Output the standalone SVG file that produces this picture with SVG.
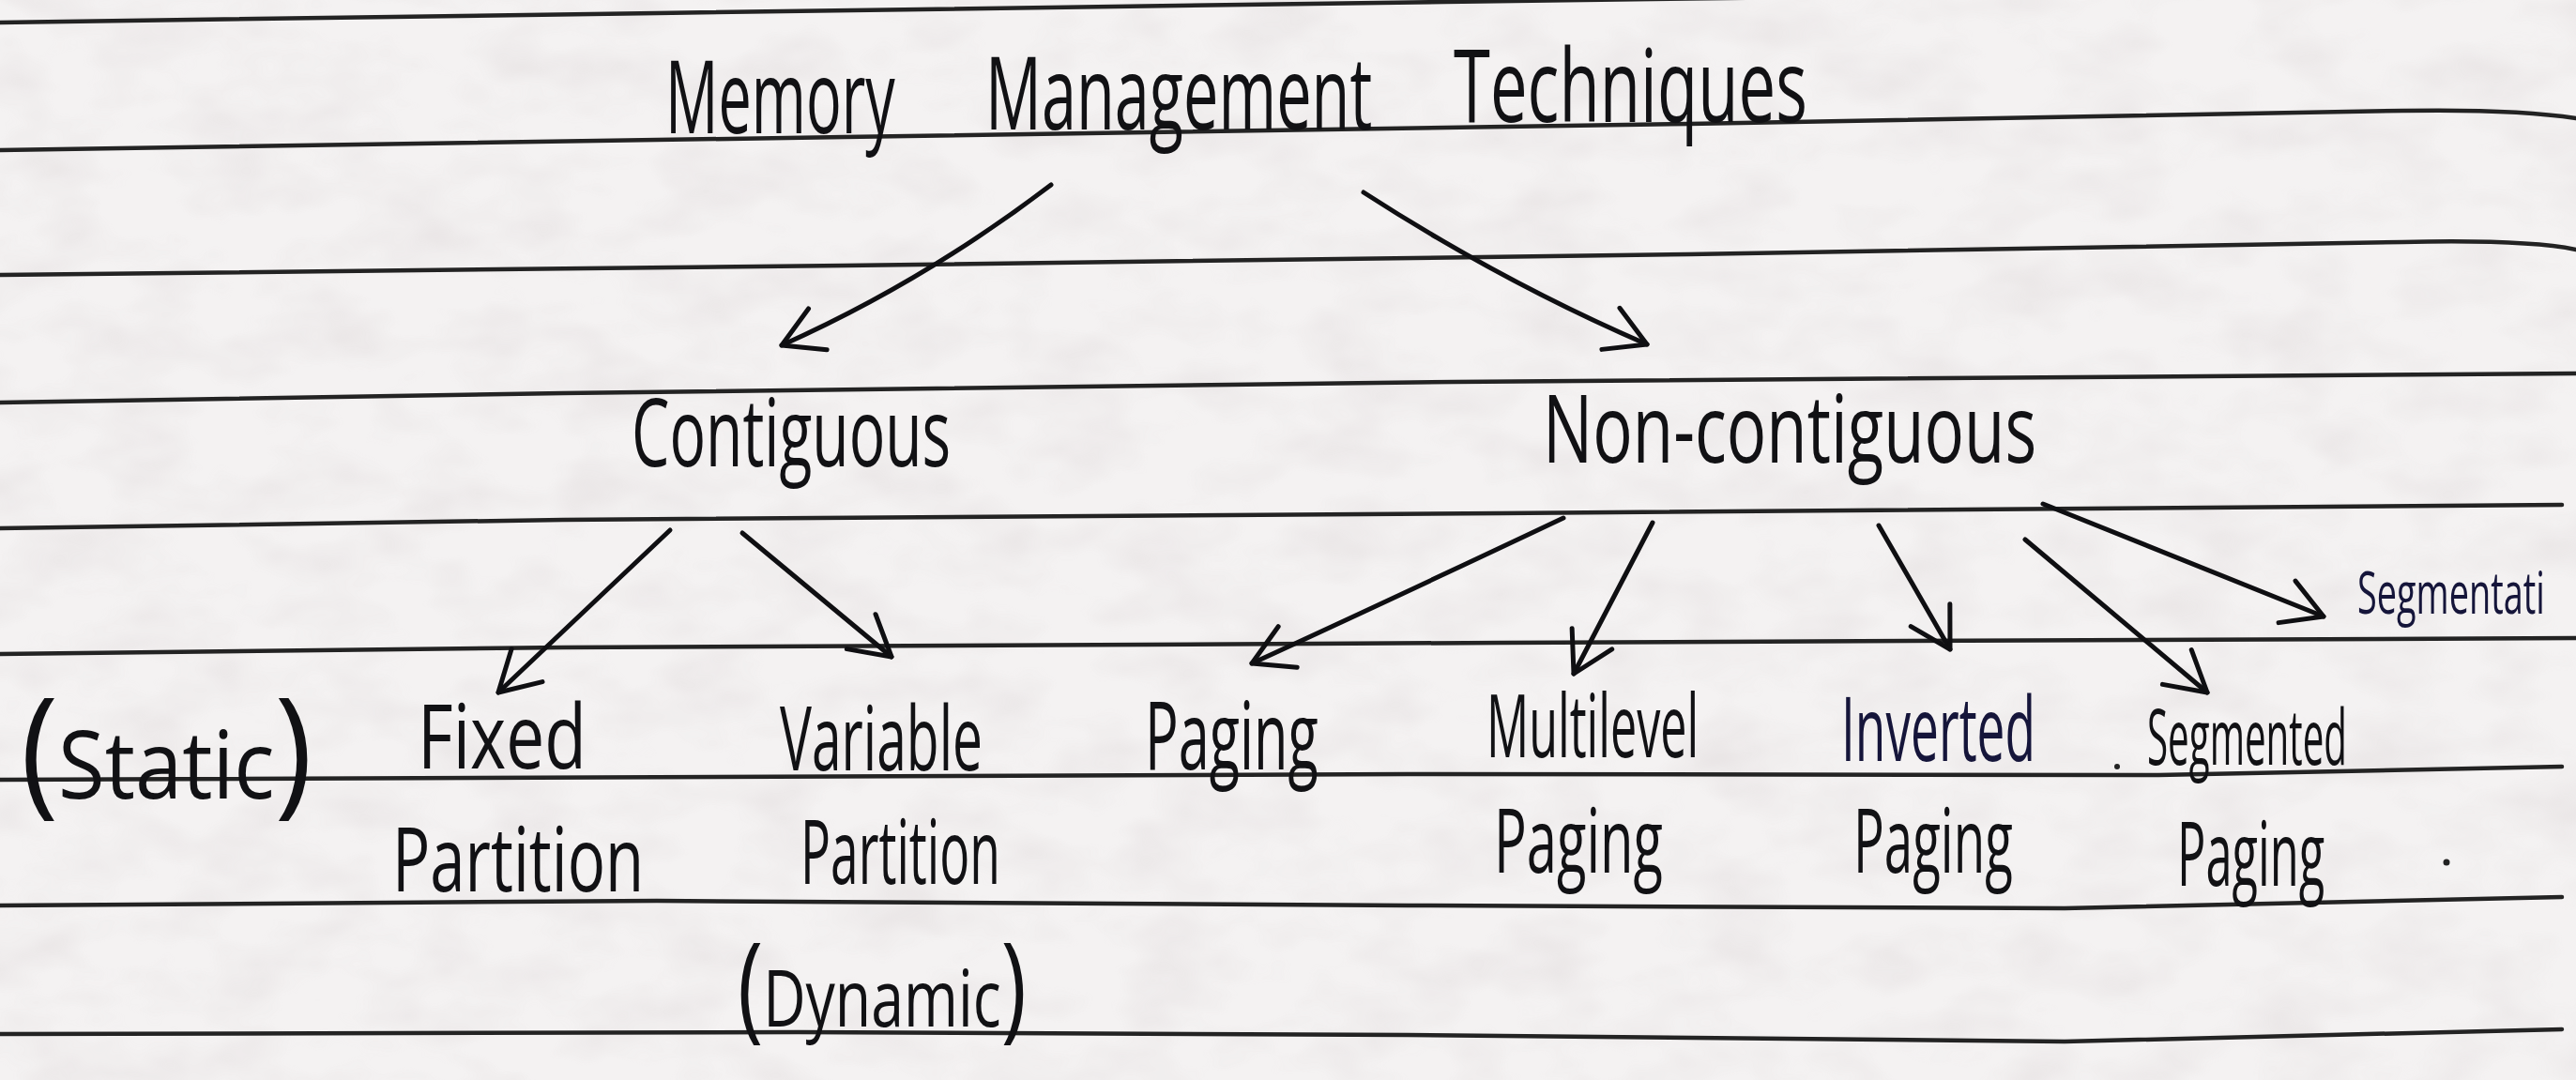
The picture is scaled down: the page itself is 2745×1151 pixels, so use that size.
<svg xmlns="http://www.w3.org/2000/svg" width="2745" height="1151" viewBox="0 0 2745 1151">
  <style>
    .hw { font-family: "Open Sans", "Liberation Sans", Arial, sans-serif; font-weight: 400; fill: #111114; }
    .ink2 { fill: #15153a; }
    .rule { fill: none; stroke: #232323; stroke-width: 4.5; stroke-linecap: round; stroke-linejoin: round; }
    .edge { fill: none; stroke: #0f0f12; stroke-width: 5; stroke-linecap: round; stroke-linejoin: round; marker-end: url(#head); }
  </style>
  <defs>
    <filter id="paper" x="0" y="0" width="100%" height="100%">
      <feTurbulence type="fractalNoise" baseFrequency="0.01 0.018" numOctaves="3" seed="7" result="n"/>
      <feColorMatrix in="n" type="matrix" values="0 0 0 0 0.62  0 0 0 0 0.56  0 0 0 0 0.57  0 0 0 0.9 -0.36"/>
    </filter>
    <marker id="head" markerUnits="userSpaceOnUse" markerWidth="70" markerHeight="80" viewBox="-60 -40 70 80" refX="0" refY="0" orient="auto" overflow="visible">
      <path d="M -42 -24 L 0 0 L -42 24" fill="none" stroke="#0f0f12" stroke-width="5" stroke-linecap="round" stroke-linejoin="round"/>
    </marker>
  </defs>

  <!-- notebook paper -->
  <rect x="0" y="0" width="2745" height="1151" fill="#f4f2f2"/>
  <rect x="0" y="0" width="2745" height="1151" filter="url(#paper)" opacity="0.55"/>

  <!-- ruled lines -->
  <g id="rules">
    <path class="rule" d="M 0 24 L 700 14 L 1540 2 L 2745 -14"/>
    <path class="rule" d="M 0 160 L 900 146 L 1800 132 L 2560 118 Q 2680 116 2745 126"/>
    <path class="rule" d="M 0 293 L 900 283 L 1800 271 L 2560 258 Q 2690 255 2745 266"/>
    <path class="rule" d="M 0 429 L 600 419 L 1550 407 L 2745 398"/>
    <path class="rule" d="M 0 563 L 600 554 L 1600 547 L 2730 538"/>
    <path class="rule" d="M 0 697 L 600 690 L 1600 685 L 2745 680"/>
    <path class="rule" d="M 0 831 L 1500 825 L 2300 826 L 2730 817"/>
    <path class="rule" d="M 0 965 L 700 960 L 1500 965 L 2200 968 L 2730 956"/>
    <path class="rule" d="M 0 1102 L 850 1100 L 1500 1103 L 2200 1110 L 2730 1097"/>
  </g>

  <!-- root: narrow handwriting is a 0.6 horizontal squeeze of the face -->
  <g id="node-title">
    <text class="hw" transform="translate(709 142) scale(0.6 1)" font-size="108" textLength="408" lengthAdjust="spacingAndGlyphs">Memory</text>
    <text class="hw" transform="translate(1050 138) scale(0.6 1)" font-size="108" textLength="687" lengthAdjust="spacingAndGlyphs">Management</text>
    <text class="hw" transform="translate(1549 130) scale(0.6 1)" font-size="108" textLength="628" lengthAdjust="spacingAndGlyphs">Techniques</text>
  </g>

  <!-- second level -->
  <g id="node-contiguous">
    <text class="hw" transform="translate(673 497) scale(0.6 1)" font-size="100" textLength="567" lengthAdjust="spacingAndGlyphs">Contiguous</text>
  </g>
  <g id="node-noncontiguous">
    <text class="hw" transform="translate(1644 493) scale(0.6 1)" font-size="100" textLength="877" lengthAdjust="spacingAndGlyphs">Non-contiguous</text>
  </g>

  <!-- contiguous leaves -->
  <g id="node-fixed">
    <text class="hw" transform="translate(22 851) scale(0.6 1)" font-size="100" textLength="518" lengthAdjust="spacingAndGlyphs"><tspan font-size="150">(</tspan>Static<tspan font-size="150">)</tspan></text>
    <text class="hw" transform="translate(445 819) scale(0.6 1)" font-size="95" textLength="300" lengthAdjust="spacingAndGlyphs">Fixed</text>
    <text class="hw" transform="translate(418 950) scale(0.6 1)" font-size="95" textLength="447" lengthAdjust="spacingAndGlyphs">Partition</text>
  </g>
  <g id="node-variable">
    <text class="hw" transform="translate(831 821) scale(0.6 1)" font-size="95" textLength="360" lengthAdjust="spacingAndGlyphs">Variable</text>
    <text class="hw" transform="translate(853 942) scale(0.6 1)" font-size="95" textLength="355" lengthAdjust="spacingAndGlyphs">Partition</text>
    <text class="hw" transform="translate(786 1094) scale(0.6 1)" font-size="85" textLength="513" lengthAdjust="spacingAndGlyphs"><tspan font-size="125">(</tspan>Dynamic<tspan font-size="125">)</tspan></text>
  </g>

  <!-- non-contiguous leaves -->
  <g id="node-paging">
    <text class="hw" transform="translate(1220 820) scale(0.6 1)" font-size="100" textLength="308" lengthAdjust="spacingAndGlyphs">Paging</text>
  </g>
  <g id="node-multilevel">
    <text class="hw" transform="translate(1584 807) scale(0.6 1)" font-size="93" textLength="377" lengthAdjust="spacingAndGlyphs">Multilevel</text>
    <text class="hw" transform="translate(1592 930) scale(0.6 1)" font-size="95" textLength="300" lengthAdjust="spacingAndGlyphs">Paging</text>
  </g>
  <g id="node-inverted">
    <text class="hw ink2" transform="translate(1962 811) scale(0.6 1)" font-size="95" textLength="345" lengthAdjust="spacingAndGlyphs">Inverted</text>
    <text class="hw" transform="translate(1975 930) scale(0.6 1)" font-size="95" textLength="283" lengthAdjust="spacingAndGlyphs">Paging</text>
  </g>
  <g id="node-segmented">
    <text class="hw" transform="translate(2288 815) scale(0.6 1)" font-size="82" textLength="355" lengthAdjust="spacingAndGlyphs">Segmented</text>
    <text class="hw" transform="translate(2320 944) scale(0.6 1)" font-size="95" textLength="262" lengthAdjust="spacingAndGlyphs">Paging</text>
  </g>
  <g id="node-segmentation">
    <text class="hw ink2" transform="translate(2512 654) scale(0.6 1)" font-size="62" textLength="333" lengthAdjust="spacingAndGlyphs">Segmentati</text>
  </g>

  <!-- stray pen dots -->
  <circle cx="2256" cy="817" r="3" fill="#222"/>
  <circle cx="2607" cy="919" r="3.5" fill="#222"/>

  <!-- connectors -->
  <g id="connectors">
    <path class="edge" d="M 1120 197 Q 985 300 833 368"/>
    <path class="edge" d="M 1453 205 Q 1600 300 1755 367"/>
    <path class="edge" d="M 714 565 L 531 738"/>
    <path class="edge" d="M 791 568 L 950 700"/>
    <path class="edge" d="M 1666 552 Q 1480 640 1334 707"/>
    <path class="edge" d="M 1761 557 L 1677 718"/>
    <path class="edge" d="M 2002 560 L 2078 692"/>
    <path class="edge" d="M 2158 575 L 2352 738"/>
    <path class="edge" d="M 2177 537 L 2476 657"/>
  </g>
</svg>
